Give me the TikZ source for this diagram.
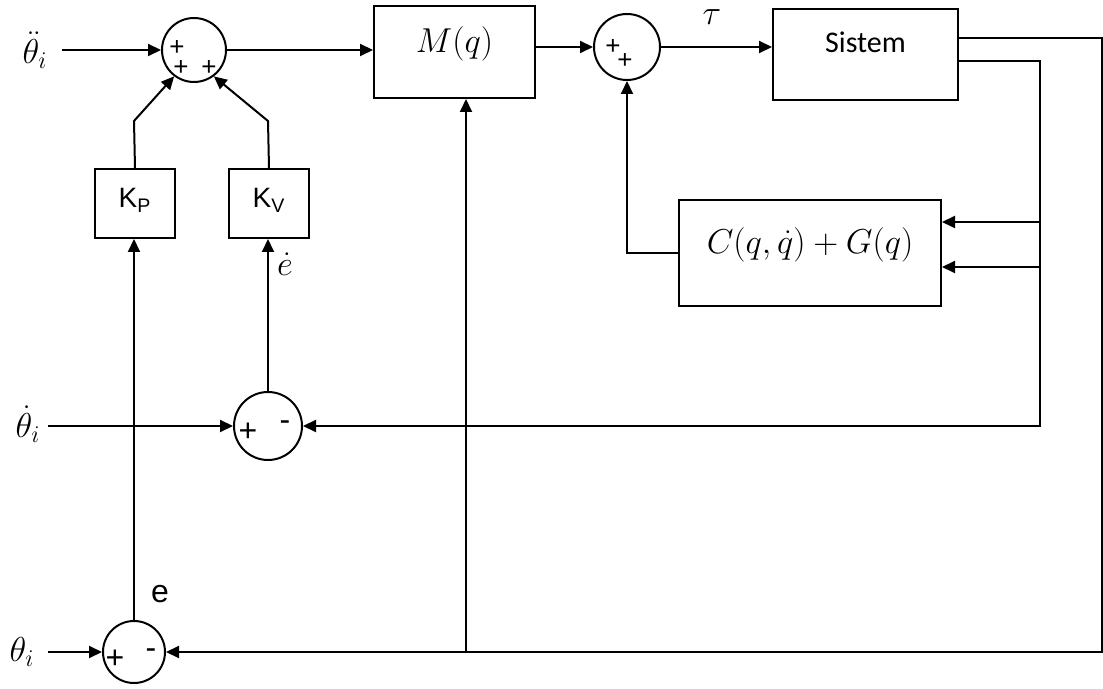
\documentclass[tikz,border=0pt]{standalone}
\usepackage{amsmath}
\usepackage{fontspec}
\newfontfamily\arialfont{Liberation Sans}
\newfontfamily\calibrifont{Carlito}
\usepackage{tikz}
\usetikzlibrary{arrows.meta, positioning}
\tikzstyle{block} = [draw, line width=1pt, rectangle, inner sep=0pt, font=\fontsize{17}{19}\selectfont]
\tikzstyle{gain} = [block, minimum width=40pt, text height=19.5pt, text depth=15pt, font=\arialfont\fontsize{14}{16}\selectfont]
\tikzstyle{sum} = [draw, line width=1pt, circle, minimum size=32pt, inner sep=0pt]
\tikzstyle{sign} = [inner sep=0pt, font=\arialfont\fontsize{13}{13}\selectfont]
\tikzstyle{bigsign} = [inner sep=0pt, font=\arialfont\fontsize{16}{16}\selectfont]
\tikzstyle{lbl} = [inner sep=0pt, font=\fontsize{17}{19}\selectfont]
\tikzstyle{arrow} = [line width=1pt,->,>={Triangle[length=6.5pt,width=6pt]}]

\begin{document}
\begin{tikzpicture}[x=0.5pt, y=-0.5pt]

   \useasboundingbox (0,0) rectangle (1103,689);

   % summing junctions
   \node[sum] (s1) at (194,50) {};
   \node[sum, minimum size=33pt] (s2) at (627,47) {};
   \node[sum, minimum size=34pt] (s3) at (268,426) {};
   \node[sum, minimum size=31pt] (s4) at (134,652) {};

   % signs inside the junctions
   \node[sign] at (177,48) {+};
   \node[sign] at (181,68) {+};
   \node[sign] at (209,68) {+};
   \node[sign] at (613,47) {+};
   \node[sign] at (625,61) {+};
   \node[bigsign] at (248,432) {+};
   \node[bigsign] at (285,426) {-};
   \node[bigsign] at (115,659) {+};
   \node[bigsign] at (151,654) {-};

   % blocks
   \node[block, anchor=north west, minimum width=80.5pt, text height=23.5pt, text depth=22.5pt] (mq) at (373,5) {$M(q)$};
   \node[block, anchor=north west, minimum width=92.5pt, text height=22pt, text depth=23.5pt, font=\calibrifont\fontsize{15}{17}\selectfont] (sys) at (772,8) {Sistem};
   \node[block, anchor=north west, minimum width=131pt, text height=27pt, text depth=26pt] (cg) at (678,199) {$C(q,\dot{q})+G(q)$};
   \node[gain, anchor=north west] (kp) at (94,168) {K\textsubscript{P}};
   \node[gain, anchor=north west] (kv) at (228,168) {K\textsubscript{V}};

   % signal labels
   \node[lbl] (tdd) at (35,50) {$\ddot{\theta}_i$};
   \node[lbl] (td) at (28,424) {$\dot{\theta}_i$};
   \node[lbl] (th) at (22,652) {$\theta_i$};
   \node[lbl] (tau) at (712,17) {$\tau$};
   \node[lbl] (edot) at (285,264) {$\dot{e}$};
   \node[lbl, font=\arialfont\fontsize{16}{18}\selectfont] (e) at (160,594) {e};

   % free ends and bends
   \coordinate (in1) at (62,50);
   \coordinate (in2) at (48,426);
   \coordinate (in3) at (48,652);
   \coordinate (out1) at (1102,38);
   \coordinate (out2) at (1040,61);
   \coordinate (fb) at (466,652);
   \coordinate (cgt) at (1040,222);
   \coordinate (cgb) at (1040,267);
   \coordinate (bendp) at (134,121);
   \coordinate (bendv) at (268,121);

   % forward path
   \draw[arrow] (in1) -- (s1);
   \draw[arrow] (s1.east) -- (s1.east -| mq.west);
   \draw[arrow] (s2.west -| mq.east) -- (s2.west);
   \draw[arrow] (s2.east) -- (s2.east -| sys.west);

   % feedback from the system
   \draw[arrow] (sys.east |- out1) -- (out1) |- (s4.east);
   \draw[arrow] (fb) -- (fb |- mq.south);
   \draw[arrow] (sys.east |- out2) -- (out2) |- (s3.east);
   \draw[arrow] (cgt) -- (cgt -| cg.east);
   \draw[arrow] (cgb) -- (cgb -| cg.east);
   \draw[arrow] (cg.west) -- (cg.west -| s2) -- (s2.south);

   % error paths
   \draw[arrow] (in2) -- (s3.west);
   \draw[arrow] (in3) -- (s4.west);
   \draw[arrow] (s3.north) -- (s3.north |- kv.south);
   \draw[arrow] (s4.north) -- (s4.north |- kp.south);
   \draw[arrow] (kp.north) -- (bendp) -- (s1.-127);
   \draw[arrow] (kv.north) -- (bendv) -- (s1.-53);

\end{tikzpicture}
\end{document}
